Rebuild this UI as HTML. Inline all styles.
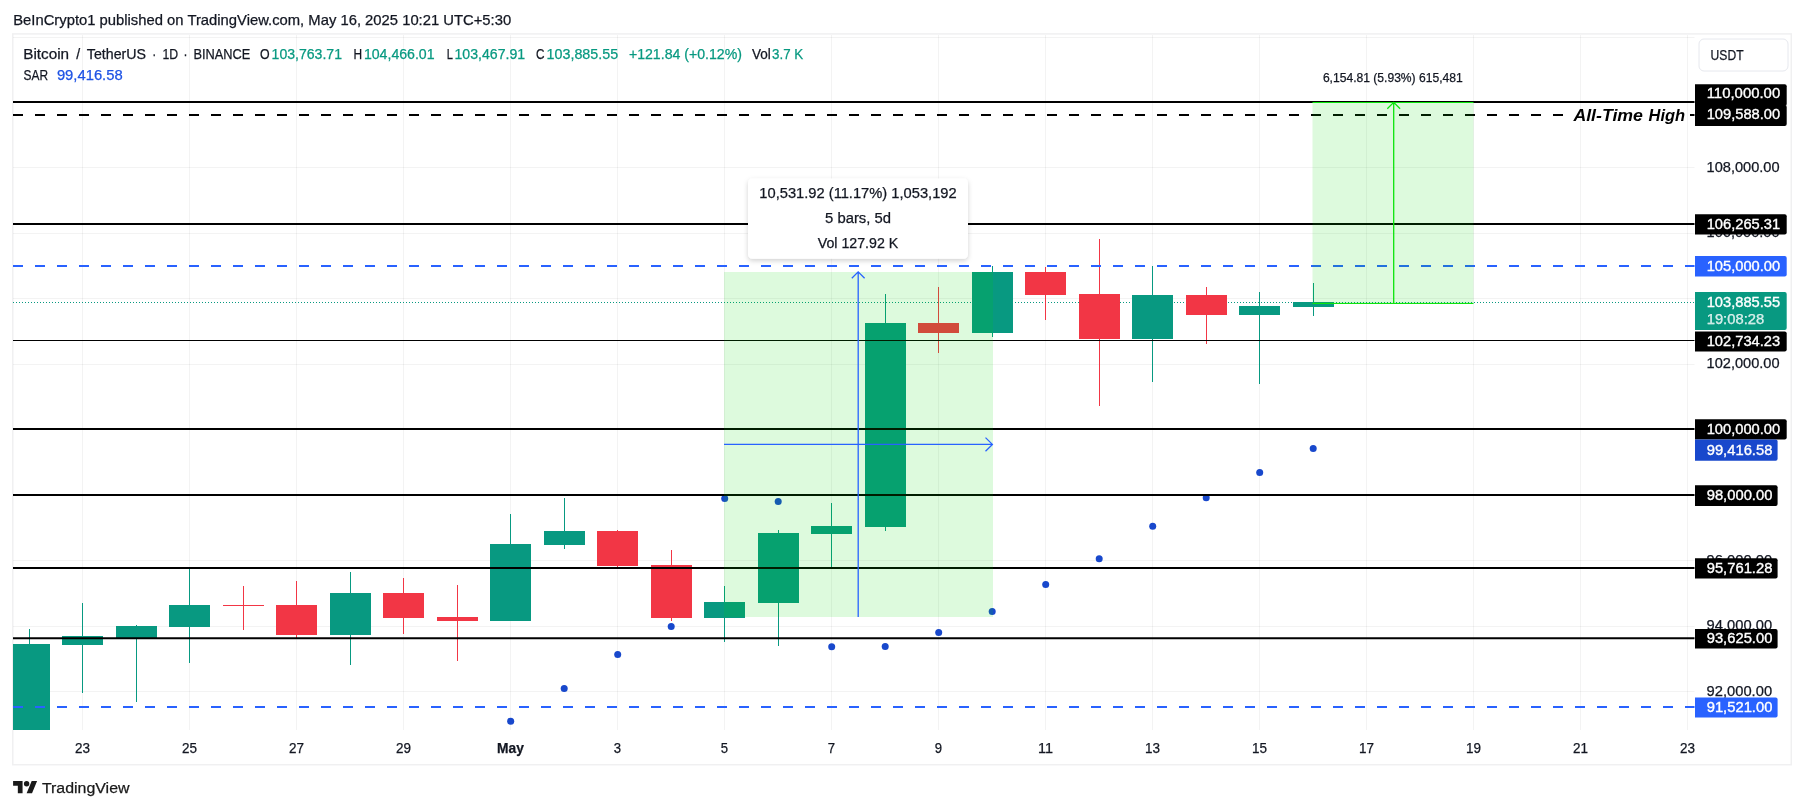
<!DOCTYPE html>
<html><head><meta charset="utf-8"><title>BTCUSDT chart</title>
<style>html,body{margin:0;padding:0;background:#fff;}body{width:1804px;height:809px;overflow:hidden;}svg{display:block;will-change:transform;font-family:"Liberation Sans",sans-serif;}</style></head><body>
<svg width="1804" height="809" viewBox="0 0 1804 809">
<rect width="1804" height="809" fill="#fff"/>
<text x="13.2" y="24.9" font-size="14.5" fill="#131722" textLength="498" lengthAdjust="spacingAndGlyphs" stroke="#131722" stroke-width="0.25">BeInCrypto1 published on TradingView.com, May 16, 2025 10:21 UTC+5:30</text>
<rect x="12.75" y="33.9" width="1778.5" height="730.8" fill="none" stroke="#f0f0f1" stroke-width="1.5"/>
<g stroke="rgba(30,40,40,0.055)" stroke-width="1">
<line x1="82.5" y1="35" x2="82.5" y2="730"/>
<line x1="189.5" y1="35" x2="189.5" y2="730"/>
<line x1="296.5" y1="35" x2="296.5" y2="730"/>
<line x1="403.5" y1="35" x2="403.5" y2="730"/>
<line x1="510.5" y1="35" x2="510.5" y2="730"/>
<line x1="617.5" y1="35" x2="617.5" y2="730"/>
<line x1="724.5" y1="35" x2="724.5" y2="730"/>
<line x1="831.5" y1="35" x2="831.5" y2="730"/>
<line x1="938.5" y1="35" x2="938.5" y2="730"/>
<line x1="1045.5" y1="35" x2="1045.5" y2="730"/>
<line x1="1152.5" y1="35" x2="1152.5" y2="730"/>
<line x1="1259.5" y1="35" x2="1259.5" y2="730"/>
<line x1="1366.5" y1="35" x2="1366.5" y2="730"/>
<line x1="1473.5" y1="35" x2="1473.5" y2="730"/>
<line x1="1580.5" y1="35" x2="1580.5" y2="730"/>
<line x1="1687.5" y1="35" x2="1687.5" y2="730"/>
<line x1="13" y1="691.5" x2="1694.5" y2="691.5"/>
<line x1="13" y1="626.5" x2="1694.5" y2="626.5"/>
<line x1="13" y1="560.5" x2="1694.5" y2="560.5"/>
<line x1="13" y1="495.5" x2="1694.5" y2="495.5"/>
<line x1="13" y1="429.5" x2="1694.5" y2="429.5"/>
<line x1="13" y1="364.5" x2="1694.5" y2="364.5"/>
<line x1="13" y1="298.5" x2="1694.5" y2="298.5"/>
<line x1="13" y1="233.5" x2="1694.5" y2="233.5"/>
<line x1="13" y1="167.5" x2="1694.5" y2="167.5"/>
<line x1="13" y1="102.5" x2="1694.5" y2="102.5"/>
<line x1="13" y1="37.5" x2="1694.5" y2="37.5"/>
</g>
<line x1="13" y1="302.5" x2="1694.5" y2="302.5" stroke="#089981" stroke-width="1" stroke-dasharray="1 2" shape-rendering="crispEdges"/>
<g shape-rendering="crispEdges">
<rect x="29" y="628.7" width="1" height="101.3" fill="#089981"/>
<rect x="13" y="644.0" width="37" height="86.0" fill="#089981"/>
<rect x="82" y="603.0" width="1" height="89.7" fill="#089981"/>
<rect x="62" y="636.0" width="41" height="9.0" fill="#089981"/>
<rect x="136" y="624.7" width="1" height="76.9" fill="#089981"/>
<rect x="116" y="626.0" width="41" height="11.5" fill="#089981"/>
<rect x="189" y="568.6" width="1" height="93.9" fill="#089981"/>
<rect x="169" y="605.0" width="41" height="21.7" fill="#089981"/>
<rect x="243" y="586.0" width="1" height="43.7" fill="#F23645"/>
<rect x="223" y="605.0" width="41" height="1.0" fill="#F23645"/>
<rect x="296" y="581.0" width="1" height="56.5" fill="#F23645"/>
<rect x="276" y="605.0" width="41" height="29.6" fill="#F23645"/>
<rect x="350" y="572.3" width="1" height="92.6" fill="#089981"/>
<rect x="330" y="593.0" width="41" height="41.7" fill="#089981"/>
<rect x="403" y="578.0" width="1" height="55.7" fill="#F23645"/>
<rect x="383" y="593.0" width="41" height="25.0" fill="#F23645"/>
<rect x="457" y="584.8" width="1" height="75.9" fill="#F23645"/>
<rect x="437" y="617.0" width="41" height="4.0" fill="#F23645"/>
<rect x="510" y="513.8" width="1" height="107.0" fill="#089981"/>
<rect x="490" y="544.0" width="41" height="76.8" fill="#089981"/>
<rect x="564" y="498.0" width="1" height="50.6" fill="#089981"/>
<rect x="544" y="531.0" width="41" height="13.8" fill="#089981"/>
<rect x="617" y="529.6" width="1" height="37.9" fill="#F23645"/>
<rect x="597" y="531.0" width="41" height="35.0" fill="#F23645"/>
<rect x="671" y="550.2" width="1" height="70.8" fill="#F23645"/>
<rect x="651" y="565.0" width="41" height="53.0" fill="#F23645"/>
<rect x="724" y="586.2" width="1" height="55.7" fill="#089981"/>
<rect x="704" y="602.0" width="41" height="16.0" fill="#089981"/>
<rect x="778" y="530.3" width="1" height="115.4" fill="#089981"/>
<rect x="758" y="533.0" width="41" height="70.0" fill="#089981"/>
<rect x="831" y="503.0" width="1" height="64.3" fill="#089981"/>
<rect x="811" y="526.0" width="41" height="8.0" fill="#089981"/>
<rect x="885" y="294.0" width="1" height="236.5" fill="#089981"/>
<rect x="865" y="323.0" width="41" height="204.0" fill="#089981"/>
<rect x="938" y="287.0" width="1" height="65.5" fill="#F23645"/>
<rect x="918" y="323.0" width="41" height="10.0" fill="#F23645"/>
<rect x="992" y="266.0" width="1" height="71.0" fill="#089981"/>
<rect x="972" y="272.0" width="41" height="61.0" fill="#089981"/>
<rect x="1045" y="267.0" width="1" height="52.7" fill="#F23645"/>
<rect x="1025" y="272.0" width="41" height="23.0" fill="#F23645"/>
<rect x="1099" y="239.3" width="1" height="166.6" fill="#F23645"/>
<rect x="1079" y="294.0" width="41" height="44.6" fill="#F23645"/>
<rect x="1152" y="266.0" width="1" height="115.7" fill="#089981"/>
<rect x="1132" y="295.0" width="41" height="43.6" fill="#089981"/>
<rect x="1206" y="287.0" width="1" height="56.8" fill="#F23645"/>
<rect x="1186" y="295.0" width="41" height="20.0" fill="#F23645"/>
<rect x="1259" y="292.0" width="1" height="92.0" fill="#089981"/>
<rect x="1239" y="306.0" width="41" height="9.0" fill="#089981"/>
<rect x="1313" y="283.0" width="1" height="32.8" fill="#089981"/>
<rect x="1293" y="302.3" width="41" height="4.5" fill="#089981"/>
</g>
<g fill="#1848CC">
<circle cx="510.7" cy="721.2" r="3.5"/>
<circle cx="564.2" cy="688.4" r="3.5"/>
<circle cx="617.7" cy="654.4" r="3.5"/>
<circle cx="671.2" cy="626.4" r="3.5"/>
<circle cx="724.7" cy="498.5" r="3.5"/>
<circle cx="778.2" cy="501.4" r="3.5"/>
<circle cx="831.7" cy="646.7" r="3.5"/>
<circle cx="885.2" cy="646.5" r="3.5"/>
<circle cx="938.7" cy="632.5" r="3.5"/>
<circle cx="992.2" cy="611.5" r="3.5"/>
<circle cx="1045.7" cy="584.5" r="3.5"/>
<circle cx="1099.2" cy="558.7" r="3.5"/>
<circle cx="1152.7" cy="526.3" r="3.5"/>
<circle cx="1206.2" cy="497.8" r="3.5"/>
<circle cx="1259.7" cy="472.4" r="3.5"/>
<circle cx="1313.2" cy="448.6" r="3.5"/>
</g>
<line x1="13" y1="102" x2="1694.5" y2="102" stroke="#000" stroke-width="2"/>
<line x1="13" y1="115" x2="1566" y2="115" stroke="#000" stroke-width="2" stroke-dasharray="10 12"/>
<line x1="1690" y1="115" x2="1694.5" y2="115" stroke="#000" stroke-width="2"/>
<line x1="13" y1="224" x2="1694.5" y2="224" stroke="#000" stroke-width="2"/>
<line x1="13" y1="266" x2="1694.5" y2="266" stroke="#2962FF" stroke-width="2" stroke-dasharray="10 12"/>
<line x1="13" y1="340.5" x2="1694.5" y2="340.5" stroke="#000" stroke-width="1"/>
<line x1="13" y1="429" x2="1694.5" y2="429" stroke="#000" stroke-width="2"/>
<line x1="13" y1="494.9" x2="1694.5" y2="494.9" stroke="#000" stroke-width="2"/>
<line x1="13" y1="567.9" x2="1694.5" y2="567.9" stroke="#000" stroke-width="2"/>
<line x1="13" y1="638.2" x2="1694.5" y2="638.2" stroke="#000" stroke-width="2"/>
<line x1="13" y1="707" x2="1694.5" y2="707" stroke="#2962FF" stroke-width="2" stroke-dasharray="10 12"/>
<rect x="724" y="272" width="269" height="345" fill="rgba(0,217,0,0.133)"/>
<g stroke="#2962FF" stroke-width="1.3" fill="none">
<path d="M858.2 617V271.8M851.8 278.2L858.2 271.8L864.6 278.2"/>
<path d="M724 444.4H992.4M985.5 437.6L992.4 444.4L985.5 451.2"/>
</g>
<rect x="1312.5" y="102" width="161" height="201.5" fill="rgba(0,217,0,0.133)"/>
<g stroke="#0CE40C" stroke-width="1.3" fill="none">
<path d="M1393.7 303.4V102.3M1387.3 108.7L1393.7 102.3L1400.1 108.7"/>
<rect x="1312.5" y="102" width="161" height="1" fill="#0CE40C" stroke="none"/>
<rect x="1312.5" y="302.9" width="161" height="1.1" fill="#0CE40C" stroke="none"/>
</g>
<text x="1573.4" y="120.7" font-size="17" fill="#000" font-weight="bold" font-style="italic" textLength="69.6" lengthAdjust="spacingAndGlyphs" stroke="none">All-Time</text>
<text x="1648.6" y="120.7" font-size="17" fill="#000" font-weight="bold" font-style="italic" textLength="36.6" lengthAdjust="spacingAndGlyphs" stroke="none">High</text>
<text x="1322.9" y="81.9" font-size="12" fill="#131722" textLength="139.8" lengthAdjust="spacingAndGlyphs" stroke="#131722" stroke-width="0.25">6,154.81 (5.93%) 615,481</text>
<defs><filter id="sh" x="-10%" y="-20%" width="120%" height="150%"><feDropShadow dx="0" dy="2" stdDeviation="2.5" flood-color="#000" flood-opacity="0.18"/></filter></defs>
<rect x="748" y="178.4" width="220" height="80.4" rx="4.5" fill="#fff" filter="url(#sh)"/>
<text x="858" y="197.6" font-size="14" fill="#131722" text-anchor="middle" textLength="197.3" lengthAdjust="spacingAndGlyphs" stroke="#131722" stroke-width="0.25">10,531.92 (11.17%) 1,053,192</text>
<text x="858" y="222.6" font-size="14" fill="#131722" text-anchor="middle" textLength="66" lengthAdjust="spacingAndGlyphs" stroke="#131722" stroke-width="0.25">5 bars, 5d</text>
<text x="858" y="247.5" font-size="14" fill="#131722" text-anchor="middle" textLength="80.5" lengthAdjust="spacingAndGlyphs" stroke="#131722" stroke-width="0.25">Vol 127.92 K</text>
<text x="23.2" y="58.6" font-size="14" fill="#131722" textLength="45.9" lengthAdjust="spacingAndGlyphs" stroke="#131722" stroke-width="0.25">Bitcoin</text>
<text x="76.3" y="58.6" font-size="14" fill="#131722" stroke="#131722" stroke-width="0.25">/</text>
<text x="86.8" y="58.6" font-size="14" fill="#131722" textLength="59.2" lengthAdjust="spacingAndGlyphs" stroke="#131722" stroke-width="0.25">TetherUS</text>
<text x="152.2" y="58.6" font-size="14" fill="#131722" textLength="4.0" lengthAdjust="spacingAndGlyphs" stroke="#131722" stroke-width="0.25">·</text>
<text x="162.4" y="58.6" font-size="14" fill="#131722" textLength="15.7" lengthAdjust="spacingAndGlyphs" stroke="#131722" stroke-width="0.25">1D</text>
<text x="183.6" y="58.6" font-size="14" fill="#131722" textLength="4.0" lengthAdjust="spacingAndGlyphs" stroke="#131722" stroke-width="0.25">·</text>
<text x="193.4" y="58.6" font-size="14" fill="#131722" textLength="56.9" lengthAdjust="spacingAndGlyphs" stroke="#131722" stroke-width="0.25">BINANCE</text>
<text x="260" y="58.6" font-size="14" fill="#131722" textLength="9.6" lengthAdjust="spacingAndGlyphs" stroke="#131722" stroke-width="0.25">O</text>
<text x="271.6" y="58.6" font-size="14" fill="#089981" textLength="70.4" lengthAdjust="spacingAndGlyphs" stroke="#089981" stroke-width="0.25">103,763.71</text>
<text x="353.6" y="58.6" font-size="14" fill="#131722" textLength="8.6" lengthAdjust="spacingAndGlyphs" stroke="#131722" stroke-width="0.25">H</text>
<text x="363.9" y="58.6" font-size="14" fill="#089981" textLength="70.7" lengthAdjust="spacingAndGlyphs" stroke="#089981" stroke-width="0.25">104,466.01</text>
<text x="446.7" y="58.6" font-size="14" fill="#131722" textLength="6.2" lengthAdjust="spacingAndGlyphs" stroke="#131722" stroke-width="0.25">L</text>
<text x="454.5" y="58.6" font-size="14" fill="#089981" textLength="70.7" lengthAdjust="spacingAndGlyphs" stroke="#089981" stroke-width="0.25">103,467.91</text>
<text x="536.1" y="58.6" font-size="14" fill="#131722" textLength="8.5" lengthAdjust="spacingAndGlyphs" stroke="#131722" stroke-width="0.25">C</text>
<text x="546.6" y="58.6" font-size="14" fill="#089981" textLength="71.5" lengthAdjust="spacingAndGlyphs" stroke="#089981" stroke-width="0.25">103,885.55</text>
<text x="628.9" y="58.6" font-size="14" fill="#089981" textLength="113.1" lengthAdjust="spacingAndGlyphs" stroke="#089981" stroke-width="0.25">+121.84 (+0.12%)</text>
<text x="752" y="58.6" font-size="14" fill="#131722" textLength="18.8" lengthAdjust="spacingAndGlyphs" stroke="#131722" stroke-width="0.25">Vol</text>
<text x="772" y="58.6" font-size="14" fill="#089981" textLength="31.2" lengthAdjust="spacingAndGlyphs" stroke="#089981" stroke-width="0.25">3.7 K</text>
<text x="23.5" y="79.5" font-size="14" fill="#131722" textLength="24.5" lengthAdjust="spacingAndGlyphs" stroke="#131722" stroke-width="0.25">SAR</text>
<text x="56.9" y="79.5" font-size="14" fill="#1E53E5" textLength="65.8" lengthAdjust="spacingAndGlyphs" stroke="#1E53E5" stroke-width="0.25">99,416.58</text>
<rect x="1699" y="39" width="89" height="32" rx="5" fill="#fff" stroke="#e6e8ee" stroke-width="1"/>
<text x="1710.6" y="60" font-size="15" fill="#131722" textLength="33" lengthAdjust="spacingAndGlyphs" stroke="#131722" stroke-width="0.25">USDT</text>
<text x="1706.6" y="171.9" font-size="14" fill="#131722" textLength="73" lengthAdjust="spacingAndGlyphs" stroke="#131722" stroke-width="0.25">108,000.00</text>
<text x="1706.6" y="237.3" font-size="14" fill="#131722" textLength="73" lengthAdjust="spacingAndGlyphs" stroke="#131722" stroke-width="0.25">106,000.00</text>
<text x="1706.6" y="367.9" font-size="14" fill="#131722" textLength="73" lengthAdjust="spacingAndGlyphs" stroke="#131722" stroke-width="0.25">102,000.00</text>
<text x="1706.6" y="564.7" font-size="14" fill="#131722" textLength="65.5" lengthAdjust="spacingAndGlyphs" stroke="#131722" stroke-width="0.25">96,000.00</text>
<text x="1706.6" y="630.1" font-size="14" fill="#131722" textLength="65.5" lengthAdjust="spacingAndGlyphs" stroke="#131722" stroke-width="0.25">94,000.00</text>
<text x="1706.6" y="695.6" font-size="14" fill="#131722" textLength="65.5" lengthAdjust="spacingAndGlyphs" stroke="#131722" stroke-width="0.25">92,000.00</text>
<path d="M1695 84.3H1784.7a2 2 0 0 1 2 2V104a2 2 0 0 1 -2 2H1695Z" fill="#000"/>
<text x="1706.7" y="98.4" font-size="14" fill="#fff" textLength="73.5" lengthAdjust="spacingAndGlyphs" stroke="#fff" stroke-width="0.35">110,000.00</text>
<path d="M1695 105H1784.7a2 2 0 0 1 2 2V124a2 2 0 0 1 -2 2H1695Z" fill="#000"/>
<text x="1706.7" y="119.1" font-size="14" fill="#fff" textLength="73.5" lengthAdjust="spacingAndGlyphs" stroke="#fff" stroke-width="0.35">109,588.00</text>
<path d="M1695 214.3H1784.7a2 2 0 0 1 2 2V232.5a2 2 0 0 1 -2 2H1695Z" fill="#000"/>
<text x="1706.7" y="228.9" font-size="14" fill="#fff" textLength="73.5" lengthAdjust="spacingAndGlyphs" stroke="#fff" stroke-width="0.35">106,265.31</text>
<path d="M1695 256H1784.7a2 2 0 0 1 2 2V274.6a2 2 0 0 1 -2 2H1695Z" fill="#2962FF"/>
<text x="1706.7" y="270.8" font-size="14" fill="#fff" textLength="73.5" lengthAdjust="spacingAndGlyphs" stroke="#fff" stroke-width="0.35">105,000.00</text>
<path d="M1695 292H1784.7a2 2 0 0 1 2 2V328a2 2 0 0 1 -2 2H1695Z" fill="#089981"/>
<text x="1706.7" y="307.1" font-size="14" fill="#fff" textLength="73.5" lengthAdjust="spacingAndGlyphs" stroke="#fff" stroke-width="0.35">103,885.55</text>
<text x="1706.7" y="323.8" font-size="14" fill="#fff" textLength="57.5" lengthAdjust="spacingAndGlyphs" stroke="#fff" stroke-width="0.25" fill-opacity="0.8">19:08:28</text>
<path d="M1695 331.5H1784.7a2 2 0 0 1 2 2V349.5a2 2 0 0 1 -2 2H1695Z" fill="#000"/>
<text x="1706.7" y="346.0" font-size="14" fill="#fff" textLength="73.5" lengthAdjust="spacingAndGlyphs" stroke="#fff" stroke-width="0.35">102,734.23</text>
<path d="M1695 419.2H1784.7a2 2 0 0 1 2 2V437.6a2 2 0 0 1 -2 2H1695Z" fill="#000"/>
<text x="1706.7" y="433.9" font-size="14" fill="#fff" textLength="73.5" lengthAdjust="spacingAndGlyphs" stroke="#fff" stroke-width="0.35">100,000.00</text>
<path d="M1695 439.6H1775.6a2 2 0 0 1 2 2V458.8a2 2 0 0 1 -2 2H1695Z" fill="#1848CC"/>
<text x="1706.7" y="454.7" font-size="14" fill="#fff" textLength="65.7" lengthAdjust="spacingAndGlyphs" stroke="#fff" stroke-width="0.35">99,416.58</text>
<path d="M1695 485.2H1775.6a2 2 0 0 1 2 2V503.9a2 2 0 0 1 -2 2H1695Z" fill="#000"/>
<text x="1706.7" y="500.0" font-size="14" fill="#fff" textLength="65.7" lengthAdjust="spacingAndGlyphs" stroke="#fff" stroke-width="0.35">98,000.00</text>
<path d="M1695 558.3H1775.6a2 2 0 0 1 2 2V576.5a2 2 0 0 1 -2 2H1695Z" fill="#000"/>
<text x="1706.7" y="572.9" font-size="14" fill="#fff" textLength="65.7" lengthAdjust="spacingAndGlyphs" stroke="#fff" stroke-width="0.35">95,761.28</text>
<path d="M1695 628.9H1775.6a2 2 0 0 1 2 2V646.6a2 2 0 0 1 -2 2H1695Z" fill="#000"/>
<text x="1706.7" y="643.2" font-size="14" fill="#fff" textLength="65.7" lengthAdjust="spacingAndGlyphs" stroke="#fff" stroke-width="0.35">93,625.00</text>
<path d="M1695 697.4H1775.6a2 2 0 0 1 2 2V715.6a2 2 0 0 1 -2 2H1695Z" fill="#2962FF"/>
<text x="1706.7" y="712.0" font-size="14" fill="#fff" textLength="65.7" lengthAdjust="spacingAndGlyphs" stroke="#fff" stroke-width="0.35">91,521.00</text>
<text x="82.5" y="752.8" font-size="14" fill="#131722" text-anchor="middle" textLength="15" lengthAdjust="spacingAndGlyphs" stroke="#131722" stroke-width="0.25">23</text>
<text x="189.5" y="752.8" font-size="14" fill="#131722" text-anchor="middle" textLength="15" lengthAdjust="spacingAndGlyphs" stroke="#131722" stroke-width="0.25">25</text>
<text x="296.5" y="752.8" font-size="14" fill="#131722" text-anchor="middle" textLength="15" lengthAdjust="spacingAndGlyphs" stroke="#131722" stroke-width="0.25">27</text>
<text x="403.5" y="752.8" font-size="14" fill="#131722" text-anchor="middle" textLength="15" lengthAdjust="spacingAndGlyphs" stroke="#131722" stroke-width="0.25">29</text>
<text x="510.5" y="752.8" font-size="14" fill="#131722" text-anchor="middle" font-weight="bold" textLength="26.8" lengthAdjust="spacingAndGlyphs" stroke="#131722" stroke-width="0.25">May</text>
<text x="617.5" y="752.8" font-size="14" fill="#131722" text-anchor="middle" textLength="7.3" lengthAdjust="spacingAndGlyphs" stroke="#131722" stroke-width="0.25">3</text>
<text x="724.5" y="752.8" font-size="14" fill="#131722" text-anchor="middle" textLength="7.3" lengthAdjust="spacingAndGlyphs" stroke="#131722" stroke-width="0.25">5</text>
<text x="831.5" y="752.8" font-size="14" fill="#131722" text-anchor="middle" textLength="7.3" lengthAdjust="spacingAndGlyphs" stroke="#131722" stroke-width="0.25">7</text>
<text x="938.5" y="752.8" font-size="14" fill="#131722" text-anchor="middle" textLength="7.3" lengthAdjust="spacingAndGlyphs" stroke="#131722" stroke-width="0.25">9</text>
<text x="1045.5" y="752.8" font-size="14" fill="#131722" text-anchor="middle" textLength="15" lengthAdjust="spacingAndGlyphs" stroke="#131722" stroke-width="0.25">11</text>
<text x="1152.5" y="752.8" font-size="14" fill="#131722" text-anchor="middle" textLength="15" lengthAdjust="spacingAndGlyphs" stroke="#131722" stroke-width="0.25">13</text>
<text x="1259.5" y="752.8" font-size="14" fill="#131722" text-anchor="middle" textLength="15" lengthAdjust="spacingAndGlyphs" stroke="#131722" stroke-width="0.25">15</text>
<text x="1366.5" y="752.8" font-size="14" fill="#131722" text-anchor="middle" textLength="15" lengthAdjust="spacingAndGlyphs" stroke="#131722" stroke-width="0.25">17</text>
<text x="1473.5" y="752.8" font-size="14" fill="#131722" text-anchor="middle" textLength="15" lengthAdjust="spacingAndGlyphs" stroke="#131722" stroke-width="0.25">19</text>
<text x="1580.5" y="752.8" font-size="14" fill="#131722" text-anchor="middle" textLength="15" lengthAdjust="spacingAndGlyphs" stroke="#131722" stroke-width="0.25">21</text>
<text x="1687.5" y="752.8" font-size="14" fill="#131722" text-anchor="middle" textLength="15" lengthAdjust="spacingAndGlyphs" stroke="#131722" stroke-width="0.25">23</text>
<g transform="translate(13.1,778.3) scale(0.676)" fill="#1a1a1a"><path d="M14 22H7V11H0V4h14v18zM28 22h-8l7.5-18h8L28 22z"/><circle cx="20" cy="8" r="4"/></g>
<text x="41.9" y="792.8" font-size="15.5" fill="#1a1a1a" textLength="87.6" lengthAdjust="spacingAndGlyphs" stroke="#1a1a1a" stroke-width="0.25">TradingView</text>
</svg></body></html>
